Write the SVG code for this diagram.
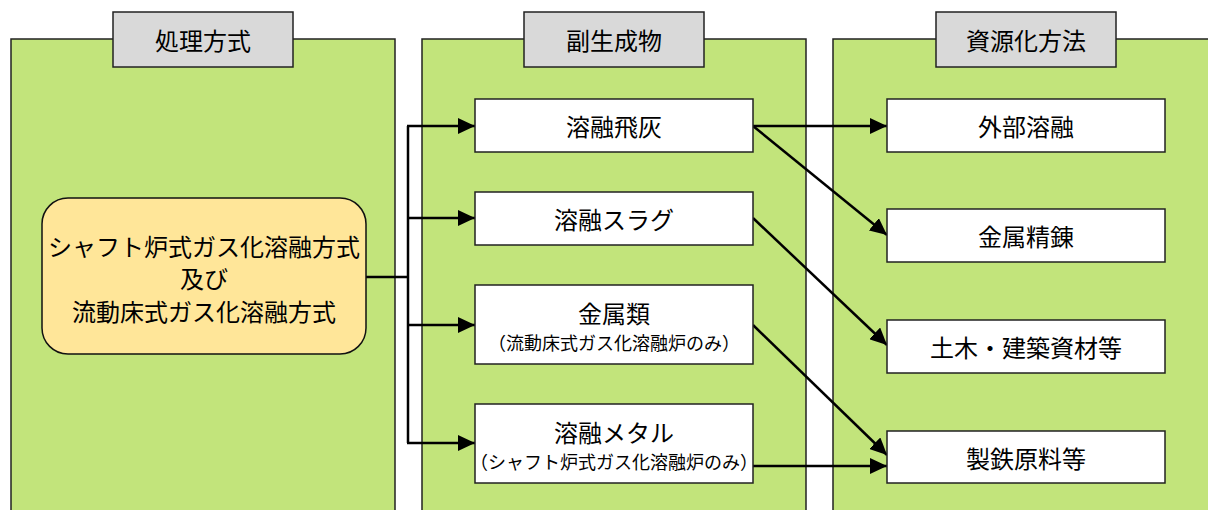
<svg xmlns="http://www.w3.org/2000/svg" width="1208" height="510" viewBox="0 0 1208 510">
<style>
text{font-family:"Noto Sans CJK JP","Noto Sans CJK SC",sans-serif;fill:#000;text-anchor:middle;dominant-baseline:central}
.panel{fill:#C2E47B;stroke:#222;stroke-width:1.5}
.hdr{fill:#D9D9D9;stroke:#222;stroke-width:1.5}
.box{fill:#fff;stroke:#222;stroke-width:1.5}
.src{fill:#FFE699;stroke:#111;stroke-width:1.5}
.t{font-size:24px}
.s{font-size:18px}
.c{fill:none;stroke:#000;stroke-width:2.5}
</style>
<defs>
<marker id="ah" markerWidth="17" markerHeight="16" refX="17" refY="8" orient="auto" markerUnits="userSpaceOnUse">
<path d="M0,0 L17,8 L0,16 Z" fill="#000"/>
</marker>
</defs>

<g id="panel-shori">
<rect class="panel" x="11" y="39" width="384" height="480"/>
<rect class="hdr" x="113" y="12" width="180" height="55"/>
<text class="t" x="203" y="39.5">処理方式</text>
</g>
<g id="panel-fukusei">
<rect class="panel" x="422" y="39" width="384" height="480"/>
<rect class="hdr" x="524" y="12" width="180" height="55"/>
<text class="t" x="614" y="39.5">副生成物</text>
</g>
<g id="panel-shigen">
<rect class="panel" x="833" y="39" width="384" height="480"/>
<rect class="hdr" x="936" y="12" width="180" height="55"/>
<text class="t" x="1026" y="39.5">資源化方法</text>
</g>

<g id="connectors">
<polyline class="c" points="366,277 408,277"/>
<line class="c" x1="408" y1="126" x2="408" y2="443"/>
<line class="c" x1="407" y1="126" x2="475" y2="126" marker-end="url(#ah)"/>
<line class="c" x1="407" y1="218" x2="475" y2="218" marker-end="url(#ah)"/>
<line class="c" x1="407" y1="325" x2="475" y2="325" marker-end="url(#ah)"/>
<line class="c" x1="407" y1="443" x2="475" y2="443" marker-end="url(#ah)"/>
<line class="c" x1="753" y1="126" x2="887" y2="126" marker-end="url(#ah)"/>
<line class="c" x1="753" y1="126" x2="887" y2="235" marker-end="url(#ah)"/>
<line class="c" x1="753" y1="218" x2="887" y2="345" marker-end="url(#ah)"/>
<line class="c" x1="753" y1="325" x2="887" y2="455" marker-end="url(#ah)"/>
<line class="c" x1="753" y1="466" x2="887" y2="466" marker-end="url(#ah)"/>
</g>

<g id="node-source">
<rect class="src" x="42" y="198" width="324" height="156" rx="26" ry="26"/>
<text class="t" x="204" y="245">シャフト炉式ガス化溶融方式</text>
<text class="t" x="204" y="277">及び</text>
<text class="t" x="204" y="310">流動床式ガス化溶融方式</text>
</g>

<g id="node-hihai">
<rect class="box" x="475" y="99" width="278" height="53"/>
<text class="t" x="614" y="125.5">溶融飛灰</text>
</g>
<g id="node-slag">
<rect class="box" x="475" y="192" width="278" height="53"/>
<text class="t" x="614" y="218.5">溶融スラグ</text>
</g>
<g id="node-kinzoku">
<rect class="box" x="475" y="285" width="278" height="79"/>
<text class="t" x="614" y="312">金属類</text>
<text class="s" x="614" y="342">（流動床式ガス化溶融炉のみ）</text>
</g>
<g id="node-metal">
<rect class="box" x="475" y="404" width="278" height="79"/>
<text class="t" x="614" y="431">溶融メタル</text>
<text class="s" x="614" y="461">（シャフト炉式ガス化溶融炉のみ）</text>
</g>

<g id="node-gaibu">
<rect class="box" x="887" y="99" width="278" height="53"/>
<text class="t" x="1026" y="125.5">外部溶融</text>
</g>
<g id="node-seiren">
<rect class="box" x="887" y="209" width="278" height="53"/>
<text class="t" x="1026" y="235.5">金属精錬</text>
</g>
<g id="node-doboku">
<rect class="box" x="887" y="320" width="278" height="53"/>
<text class="t" x="1026" y="346.5">土木・建築資材等</text>
</g>
<g id="node-seitetsu">
<rect class="box" x="887" y="431" width="278" height="52"/>
<text class="t" x="1026" y="457">製鉄原料等</text>
</g>
</svg>
